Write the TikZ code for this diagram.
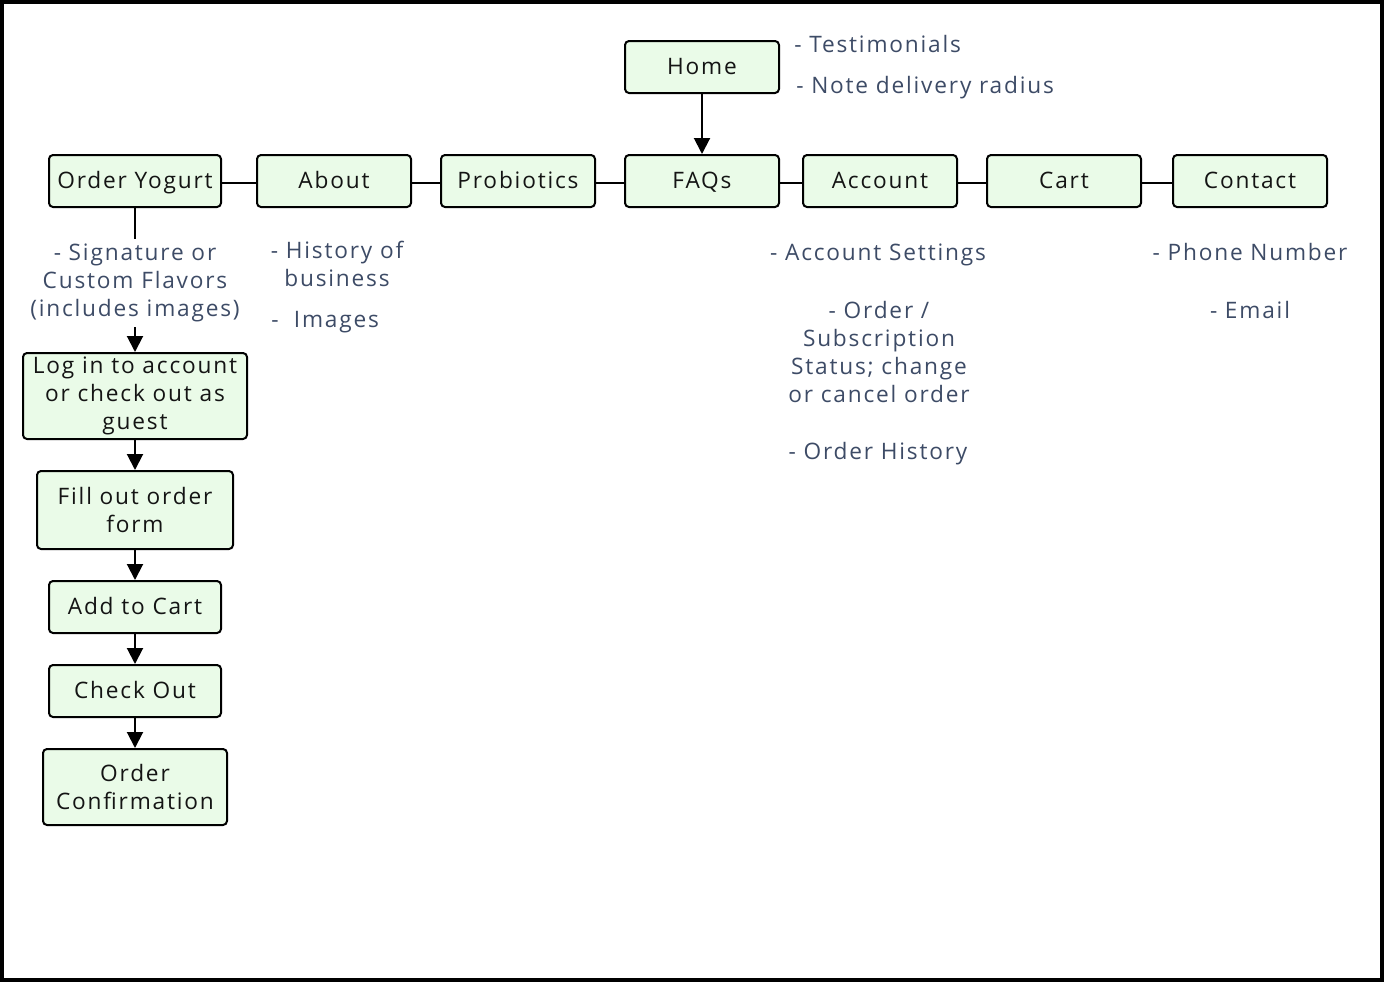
\documentclass[tikz,border=0pt]{standalone}
\usepackage{fontspec}
\setmainfont{Open Sans}[LetterSpace=8]
\usetikzlibrary{arrows.meta}
\definecolor{boxfill}{HTML}{EAFBE8}
\definecolor{notecol}{HTML}{3D4B66}
\begin{document}
\begin{tikzpicture}[x=0.75pt,y=-0.75pt,
  pbox/.style={draw=black,line width=1.5pt,fill=boxfill,rounded corners=3pt,
    inner sep=0pt,align=center,
    font=\fontsize{17}{21}\selectfont,text=black!92},
  onebox/.style={pbox,text height=13pt,text depth=2.5pt},
  note/.style={inner sep=0pt,align=center,font=\fontsize{17}{21}\selectfont,text=notecol},
  link/.style={line width=1.5pt,draw=black},
  arr/.style={line width=1.5pt,draw=black,-{Triangle[length=12pt,width=12pt]}}]
\useasboundingbox (0,0) rectangle (1384,982);
\draw[line width=3pt] (2,2) rectangle (1382,980);
% top row boxes
\node[onebox,minimum width=154*0.75pt,minimum height=52*0.75pt] (home) at (702,67) {Home};
\node[onebox,minimum width=172*0.75pt,minimum height=52*0.75pt] (order) at (135,181) {Order Yogurt};
\node[onebox,minimum width=154*0.75pt,minimum height=52*0.75pt] (about) at (334,181) {About};
\node[onebox,minimum width=154*0.75pt,minimum height=52*0.75pt] (prob) at (518,181) {Probiotics};
\node[onebox,minimum width=154*0.75pt,minimum height=52*0.75pt] (faq) at (702,181) {FAQs};
\node[onebox,minimum width=154*0.75pt,minimum height=52*0.75pt] (acct) at (880,181) {Account};
\node[onebox,minimum width=154*0.75pt,minimum height=52*0.75pt] (cart) at (1064,181) {Cart};
\node[onebox,minimum width=154*0.75pt,minimum height=52*0.75pt] (contact) at (1250,181) {Contact};
% order flow
\node[pbox,minimum width=224*0.75pt,minimum height=86*0.75pt] (login) at (135,396) {Log in to account\\or check out as\\guest};
\node[pbox,minimum width=196*0.75pt,minimum height=78*0.75pt] (fill) at (135,510) {Fill out order\\form};
\node[onebox,minimum width=172*0.75pt,minimum height=52*0.75pt] (add) at (135,607) {Add to Cart};
\node[onebox,minimum width=172*0.75pt,minimum height=52*0.75pt] (check) at (135,691) {Check Out};
\node[pbox,minimum width=184*0.75pt,minimum height=76*0.75pt] (conf) at (135,787) {Order\\Confirmation};
% notes
\node[note,anchor=west] (testi) at (794,44) {- Testimonials};
\node[note,anchor=west] (radius) at (796,88) {- Note delivery radius};
\node[note,minimum height=88*0.75pt] (sig) at (135,283) {- Signature or\\Custom Flavors\\(includes images)};
\node[note] (hist) at (337,264) {- History of\\business};
\node[note,anchor=west] (img) at (271,322) {-\ \ Images};
\node[note] (aset) at (878,255) {- Account Settings};
\node[note] (osub) at (879,352) {- Order /\\Subscription\\Status; change\\or cancel order};
\node[note] (ohist) at (878,454) {- Order History};
\node[note] (phone) at (1250,252) {- Phone Number};
\node[note] (email) at (1250,310) {- Email};
% connectors
\draw[arr] (home) -- (faq);
\draw[link] (order.east |- 0,183) -- (about.west |- 0,183);
\draw[link] (about.east |- 0,183) -- (prob.west |- 0,183);
\draw[link] (prob.east |- 0,183) -- (faq.west |- 0,183);
\draw[link] (faq.east |- 0,183) -- (acct.west |- 0,183);
\draw[link] (acct.east |- 0,183) -- (cart.west |- 0,183);
\draw[link] (cart.east |- 0,183) -- (contact.west |- 0,183);
\draw[link] (order.south) -- (sig.north);
\draw[arr] (sig.south) -- (login.north);
\draw[arr] (login) -- (fill);
\draw[arr] (fill) -- (add);
\draw[arr] (add) -- (check);
\draw[arr] (check) -- (conf);
\end{tikzpicture}
\end{document}
